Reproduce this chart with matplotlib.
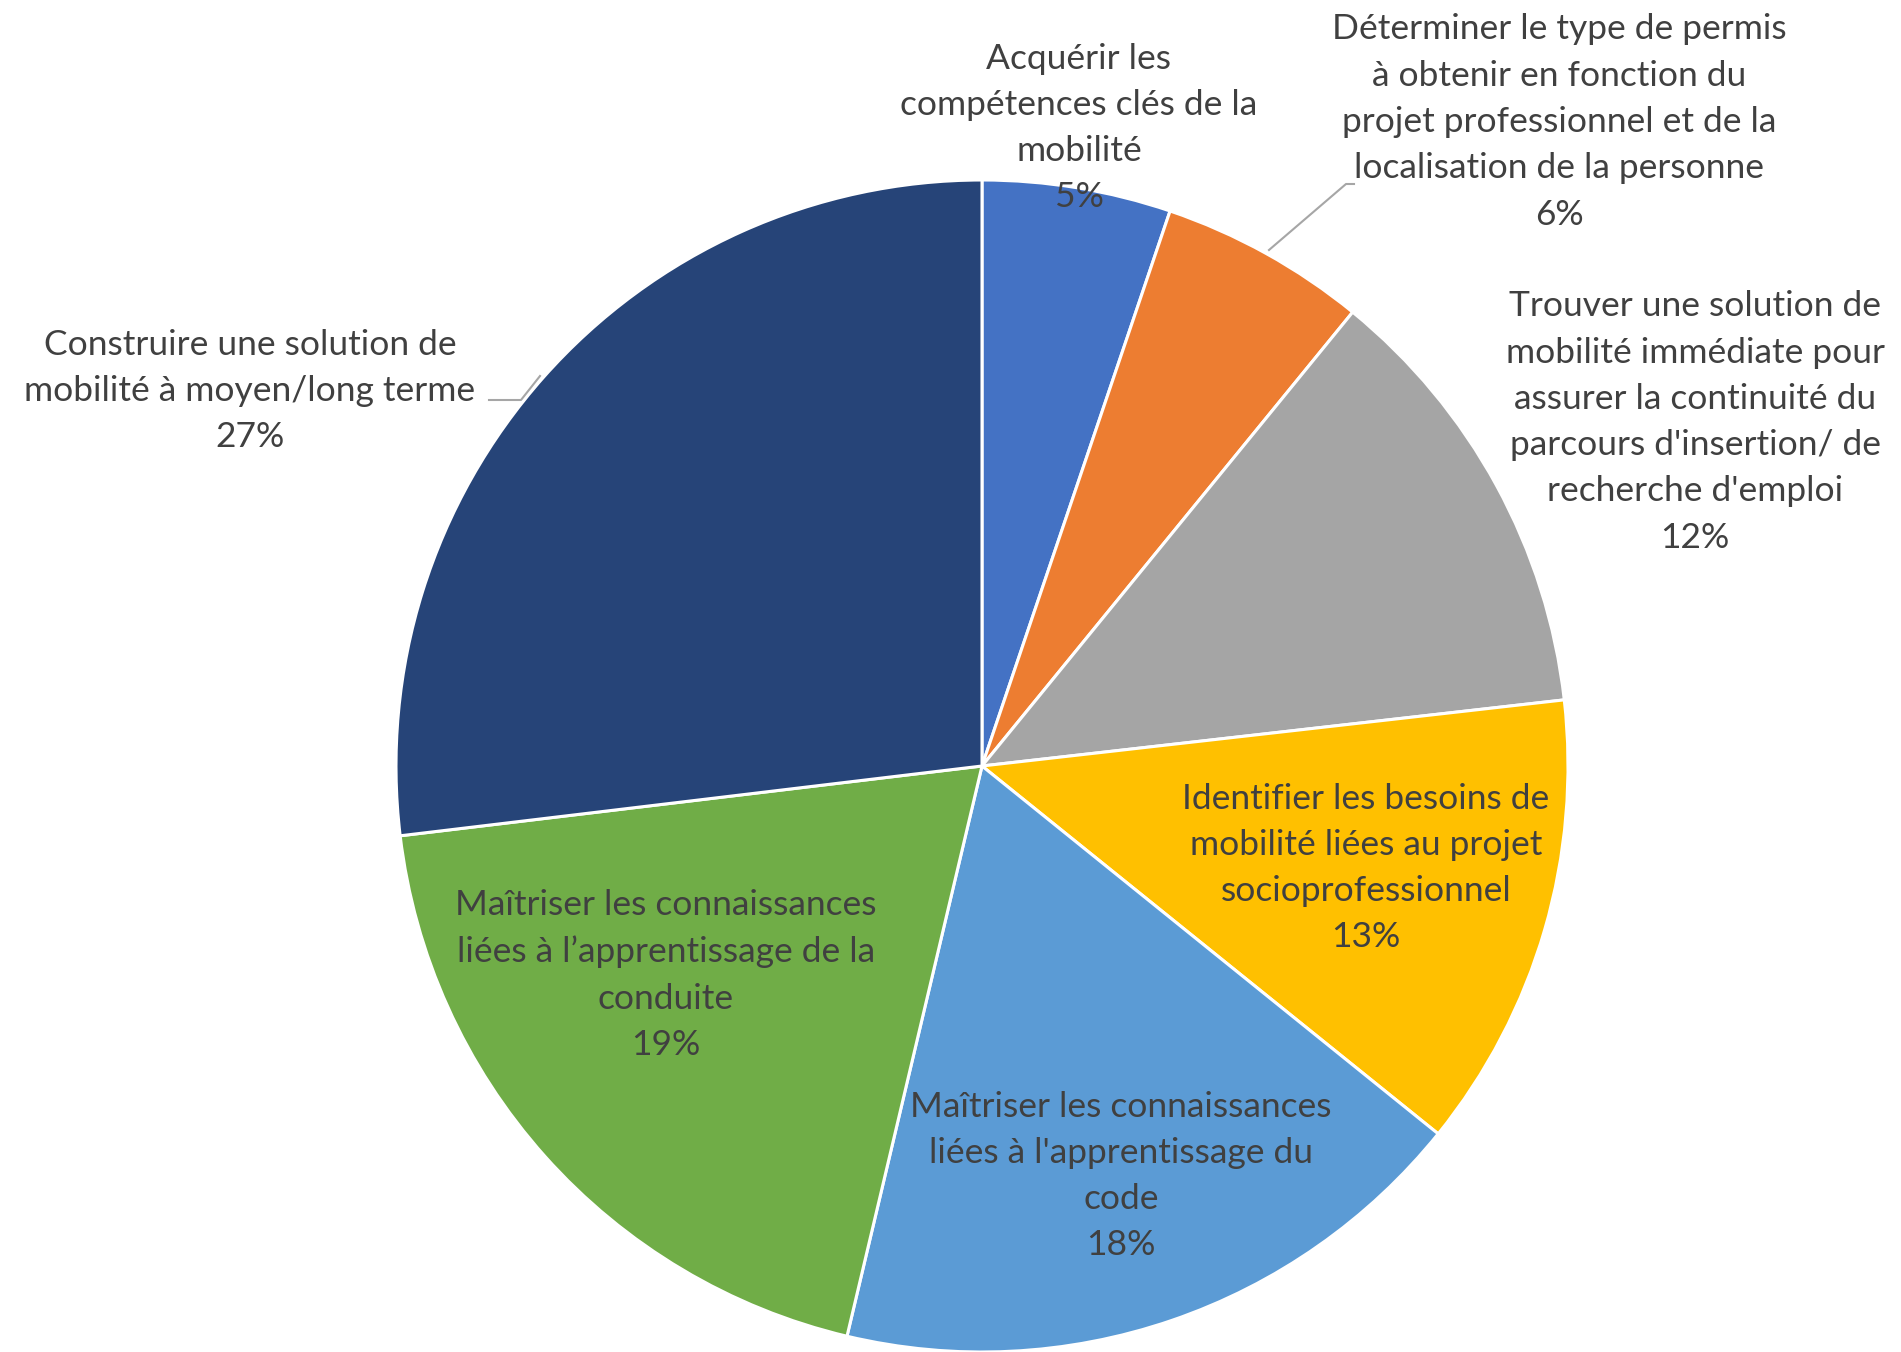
import matplotlib.pyplot as plt

# --------------------
# Data (clockwise from 12 o'clock)
# --------------------
labels = [
    "Acquérir les\ncompétences clés de la\nmobilité",
    "Déterminer le type de permis\nà obtenir en fonction du\nprojet professionnel et de la\nlocalisation de la personne",
    "Trouver une solution de\nmobilité immédiate pour\nassurer la continuité du\nparcours d'insertion/ de\nrecherche d'emploi",
    "Identifier les besoins de\nmobilité liées au projet\nsocioprofessionnel",
    "Maîtriser les connaissances\nliées à l'apprentissage du\ncode",
    "Maîtriser les connaissances\nliées à l’apprentissage de la\nconduite",
    "Construire une solution de\nmobilité à moyen/long terme",
]
values = [5.2, 5.7, 12.3, 12.6, 17.9, 19.4, 26.9]
colors = ['#4472C4', '#ED7D31', '#A5A5A5', '#FFC000', '#5B9BD5', '#70AD47', '#264478']

# label centres in pixels (from top-left of the image)
label_pos = [(1079, 128), (1559, 122), (1695, 422), (1366, 868),
             (1121, 1176), (666, 975), (250, 391)]

W, H = 1901, 1352
cx, cy, r = 982, H - 766, 586

fig = plt.figure(figsize=(W / 100, H / 100), dpi=100)
ax = fig.add_axes([0, 0, 1, 1])

ax.pie(values, colors=colors, startangle=90, counterclock=False,
       center=(cx, cy), radius=r,
       wedgeprops=dict(edgecolor='white', linewidth=2.2))

ax.set_xlim(0, W)
ax.set_ylim(0, H)
ax.set_aspect('equal')
ax.axis('off')

for lab, v, (x, y) in zip(labels, values, label_pos):
    ax.text(x, H - y, f"{lab}\n{round(v)}%", ha='center', va='center',
            fontsize=25.5, family='Lato', color='#404040', linespacing=1.55)

# leader lines
gray = '#A6A6A6'
ax.plot([1269, 1346, 1354], [H - 250, H - 184, H - 184], color=gray, lw=1.5)
ax.plot([540, 521, 489], [H - 376, H - 400, H - 400], color=gray, lw=1.5)

fig.savefig("out.png", dpi=100)
